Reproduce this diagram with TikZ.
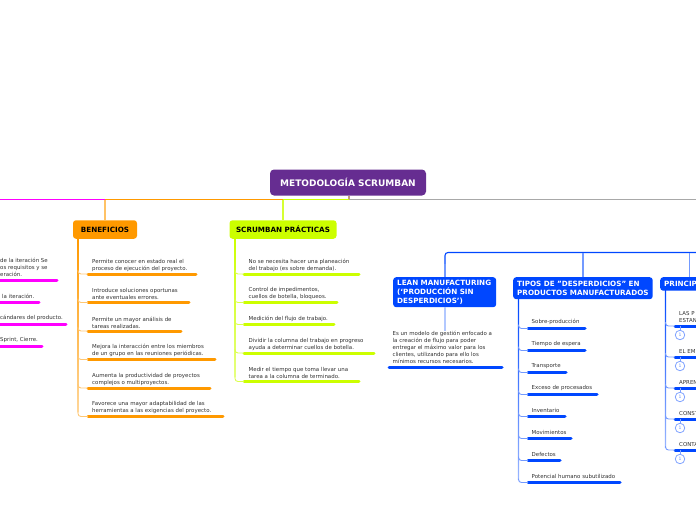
\documentclass[tikz,border=0pt]{standalone}
\usepackage{fontspec}
\setmainfont{DejaVu Sans}
\usetikzlibrary{positioning}
\definecolor{ScrumPurple}{HTML}{662D91}
\definecolor{ScrumOrange}{HTML}{FF9900}
\definecolor{ScrumLime}{HTML}{CCFF00}
\definecolor{ScrumBlue}{HTML}{0047FF}
\definecolor{ScrumMagenta}{HTML}{FF00FF}
\definecolor{ScrumGrey}{HTML}{A8A8A8}
\definecolor{ScrumTan}{HTML}{C0A080}
\definecolor{ScrumText}{HTML}{303030}
\tikzset{
  topicbox/.style={rounded corners=3pt,anchor=north west,inner sep=0pt,
    font=\bfseries\fontsize{7.2}{8.6}\selectfont,align=left},
  leaftext/.style={anchor=south west,inner sep=0pt,text=ScrumText,
    font=\fontsize{5.45}{6.9}\selectfont,align=left},
  leafbar/.style={line width=3pt,line cap=round},
  branch/.style={line width=0.9pt,rounded corners=3pt},
  railline/.style={line width=1.2pt},
  countmark/.style={circle,draw=ScrumBlue!50,line width=0.8pt,fill=white,inner sep=0pt,
    minimum size=9.5pt,text=ScrumBlue!60,font=\fontsize{4.5}{5}\selectfont}
}
\begin{document}
\begin{tikzpicture}[x=1pt,y=-1pt]
  \useasboundingbox (0,0) rectangle (696,520);

  % main lines
  \node[fill=ScrumPurple,rounded corners=4pt,minimum width=156pt,minimum height=26pt,inner sep=0pt,
    text=white,font=\bfseries\fontsize{9}{10}\selectfont] (root) at (348,182.5) {METODOLOGÍA SCRUMBAN};
  \coordinate (rootfoot) at (349,199.5);
  \coordinate (railright) at (696,199.5);
  \coordinate (railleft) at (0,199.5);
  \draw[railline,ScrumGrey] (rootfoot) -- (railright);
  \draw[ScrumTan,line width=1.4pt] (root.south -| rootfoot) -- (rootfoot);

  % benefit side
  \node[topicbox,fill=ScrumOrange,text=black,minimum width=64pt,minimum height=18.5pt,align=center,anchor=center]
    (beneficios) at (105,229.5) {BENEFICIOS};
  \node[topicbox,fill=ScrumLime,text=black,minimum width=107pt,minimum height=18.5pt,align=center,anchor=center]
    (practicas) at (283,229.5) {SCRUMBAN PRÁCTICAS};
  \draw[railline,ScrumMagenta] (railleft) -- (beneficios.north |- railleft);
  \draw[railline,ScrumOrange] (beneficios.north |- railleft) -- (practicas.north |- railleft);
  \draw[railline,ScrumLime] (practicas.north |- railleft) -- (rootfoot);
  \draw[railline,ScrumOrange!60] (beneficios.north |- railleft) -- (beneficios.north);
  \draw[railline,ScrumLime!80] (practicas.north |- railleft) -- (practicas.north);

  % magenta leaves, cut by the page edge
  \node[leaftext] (sprinta) at (0,277) {de la iteración Se\\os requisitos y se\\eración.};
  \draw[leafbar,ScrumMagenta] (0,280.5) -- (57,280.5);
  \node[leaftext] (sprintb) at (2,299) {la iteración.};
  \draw[leafbar,ScrumMagenta] (0,302.5) -- (39,302.5);
  \node[leaftext] (sprintc) at (0,321) {cándares del producto.};
  \draw[leafbar,ScrumMagenta] (0,324.5) -- (66,324.5);
  \node[leaftext] (sprintd) at (0,343) {Sprint, Cierre.};
  \draw[leafbar,ScrumMagenta] (0,346.5) -- (42,346.5);

  % beneficios
  \shade[top color=ScrumOrange,bottom color=ScrumOrange!40] (77.3,238) rectangle (78.7,412);
  \foreach \name/\ypos/\barend/\body in {
    bena/274/196/{Permite conocer en estado real el\\proceso de ejecución del proyecto.},
    benb/302.5/189/{Introduce soluciones oportunas\\ante eventuales errores.},
    benc/331/181/{Permite un mayor análisis de\\tareas realizadas.},
    bend/359.5/215/{Mejora la interacción entre los miembros\\de un grupo en las reuniones periódicas.},
    bene/388/210/{Aumenta la productividad de proyectos\\complejos o multiproyectos.},
    benf/416.5/223/{Favorece una mayor adaptabilidad de las\\herramientas a las exigencias del proyecto.}} {
    \node[leaftext] (\name) at (92,\ypos-2.5) {\body};
    \draw[leafbar,ScrumOrange] (88,\ypos) -- (\barend,\ypos);
    \draw[branch,ScrumOrange!55] (78,\ypos-4) |- (88,\ypos);
  }

  % practicas
  \shade[top color=ScrumLime,bottom color=ScrumLime!50] (234.3,238) rectangle (235.7,377);
  \foreach \name/\ypos/\barend/\body in {
    praa/274/359/{No se necesita hacer una planeación\\del trabajo (es sobre demanda).},
    prab/302.5/337/{Control de impedimentos,\\cuellos de botella, bloqueos.},
    prac/324.5/334/{Medición del flujo de trabajo.},
    prad/353/374/{Dividir la columna del trabajo en progreso\\ayuda a determinar cuellos de botella.},
    prae/381.5/359/{Medir el tiempo que toma llevar una\\tarea a la columna de terminado.}} {
    \node[leaftext] (\name) at (248.5,\ypos-2.5) {\body};
    \draw[leafbar,ScrumLime] (244,\ypos) -- (\barend,\ypos);
    \draw[branch,ScrumLime!70] (235,\ypos-4) |- (244,\ypos);
  }

  % lean
  \node[topicbox,fill=ScrumBlue,text=white,minimum width=103pt,minimum height=30pt,inner xsep=4pt,
    text width=95pt] (lean) at (393,277)
    {LEAN MANUFACTURING\\(‘PRODUCCIÓN SIN\\DESPERDICIOS’)};
  \node[topicbox,fill=ScrumBlue,text=white,minimum width=139.5pt,minimum height=22pt,inner xsep=4pt,
    text width=131.5pt] (tipos) at (513,277)
    {TIPOS DE "DESPERDICIOS" EN\\PRODUCTOS MANUFACTURADOS};
  \node[topicbox,fill=ScrumBlue,text=white,minimum width=58pt,minimum height=13.5pt,inner xsep=4pt,
    text width=50pt] (principios) at (660,277) {PRINCIP};
  \coordinate (bluerail) at (696,252.5);
  \coordinate (leanbend) at (445,264);
  \draw[branch,ScrumBlue,line width=1.1pt] (leanbend) |- (bluerail);
  \draw[railline,ScrumBlue!55] (leanbend) -- (leanbend |- lean.north);
  \draw[railline,ScrumBlue!55] (tipos.north) -- (tipos.north |- bluerail);
  \draw[railline,ScrumBlue!55] (principios.north) -- (principios.north |- bluerail);

  \node[leaftext,anchor=north west] (leantext) at (392.5,331)
    {Es un modelo de gestión enfocado a\\la creación de flujo para poder\\entregar el máximo valor para los\\clientes, utilizando para ello los\\mínimos recursos necesarios.};
  \draw[railline,ScrumBlue!30] (leanbend |- lean.south) -- (leanbend |- leantext.north);
  \draw[leafbar,ScrumBlue] (389,367) -- (502,367);

  % tipos
  \shade[top color=ScrumBlue,bottom color=ScrumBlue!40] (517.8,299) rectangle (519.2,479);
  \foreach \name/\ypos/\barend/\body in {
    tipa/328.5/585/{Sobre-producción},
    tipb/350.5/585/{Tiempo de espera},
    tipc/372.5/566/{Transporte},
    tipd/394.5/597/{Exceso de procesados},
    tipe/416.5/565/{Inventario},
    tipf/438.5/571/{Movimientos},
    tipg/460.5/560/{Defectos},
    tiph/482.5/620/{Potencial humano subutilizado}} {
    \node[leaftext] (\name) at (531.5,\ypos-4) {\body};
    \draw[leafbar,ScrumBlue] (528,\ypos) -- (\barend,\ypos);
    \draw[branch,ScrumBlue!55] (518.5,\ypos-4) |- (528,\ypos);
  }

  % principios
  \shade[top color=ScrumBlue,bottom color=ScrumBlue!40] (664.8,290) rectangle (666.2,447);
  \foreach \name/\ypos/\body in {
    pria/326/{LAS P\\ESTAN},
    prib/357/{EL EM},
    pric/388/{APREN},
    prid/419/{CONST},
    prie/450/{CONTA}} {
    \node[leaftext] (\name) at (679,\ypos-3) {\body};
    \draw[leafbar,ScrumBlue] (675,\ypos) -- (696,\ypos);
    \draw[branch,ScrumBlue!55] (665.5,\ypos-4) |- (675,\ypos);
    \node[countmark] (\name mark) at (680,\ypos+9) {1};
    \draw[ScrumBlue!50,line width=0.7pt] (680,\ypos) -- (\name mark);
  }
\end{tikzpicture}
\end{document}
